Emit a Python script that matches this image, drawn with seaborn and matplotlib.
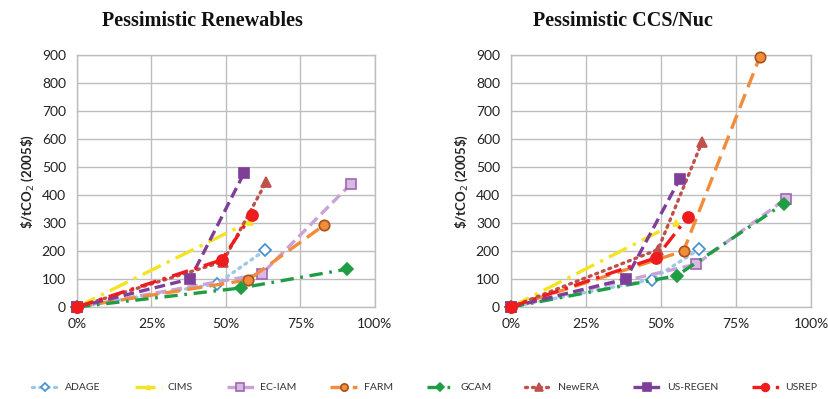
import matplotlib
matplotlib.use("Agg")
import matplotlib.pyplot as plt
import seaborn as sns
import pandas as pd

# Model names (legend order)
models = ["ADAGE", "CIMS", "EC-IAM", "FARM", "GCAM", "NewERA", "US-REGEN", "USREP"]
panels = ["Pessimistic Renewables", "Pessimistic CCS/Nuc"]

# Emissions reduction (fraction) and carbon price ($/tCO2, 2005$) per model
renew_x = {
    "ADAGE": [0, 0.47, 0.63],
    "CIMS": [0, 0.58],
    "EC-IAM": [0, 0.62, 0.92],
    "FARM": [0, 0.575, 0.83],
    "GCAM": [0, 0.55, 0.905],
    "NewERA": [0, 0.49, 0.635],
    "US-REGEN": [0, 0.38, 0.56],
    "USREP": [0, 0.485, 0.587],
}
renew_y = {
    "ADAGE": [0, 83, 202],
    "CIMS": [0, 305],
    "EC-IAM": [0, 118, 440],
    "FARM": [0, 97, 293],
    "GCAM": [0, 68, 135],
    "NewERA": [0, 162, 447],
    "US-REGEN": [0, 100, 477],
    "USREP": [0, 168, 330],
}
ccs_x = {
    "ADAGE": [0, 0.47, 0.628],
    "CIMS": [0, 0.55],
    "EC-IAM": [0, 0.618, 0.917],
    "FARM": [0, 0.575, 0.829],
    "GCAM": [0, 0.553, 0.909],
    "NewERA": [0, 0.49, 0.637],
    "US-REGEN": [0, 0.383, 0.562],
    "USREP": [0, 0.484, 0.59],
}
ccs_y = {
    "ADAGE": [0, 98, 207],
    "CIMS": [0, 300],
    "EC-IAM": [0, 153, 387],
    "FARM": [0, 200, 892],
    "GCAM": [0, 112, 369],
    "NewERA": [0, 205, 590],
    "US-REGEN": [0, 100, 456],
    "USREP": [0, 176, 322],
}

x_ticks = [0, 0.25, 0.5, 0.75, 1.0]
x_ticklabels = ["0%", "25%", "50%", "75%", "100%"]
y_ticks = [0, 100, 200, 300, 400, 500, 600, 700, 800, 900]

# Line / marker styling per model
styles = {
    "ADAGE": dict(color="#9CC8EA", linestyle=(0, (0.6, 1.6)), marker="D", ms=6,
                  mfc="white", mec="#3F8FD2", dash_capstyle="round"),
    "CIMS": dict(color="#F3E422", linestyle=(0, (6, 2, 1, 2)), marker="^", ms=4,
                 mfc="#F3E422", mec="#F3E422"),
    "EC-IAM": dict(color="#C9A3D8", linestyle=(0, (3.2, 1.6)), marker="s", ms=7.5,
                   mfc="#D9B9E4", mec="#9C67B3"),
    "FARM": dict(color="#F28C3A", linestyle=(0, (4.5, 2.2)), marker="o", ms=7.5,
                 mfc="#F28C3A", mec="#A5531B"),
    "GCAM": dict(color="#1F9D45", linestyle=(0, (4, 2, 0.8, 2)), marker="D", ms=6,
                 mfc="#1F9D45", mec="#1F9D45"),
    "NewERA": dict(color="#C0504D", linestyle=(0, (0.6, 1.5)), marker="^", ms=7.5,
                   mfc="#C0504D", mec="#C0504D", dash_capstyle="round"),
    "US-REGEN": dict(color="#7F3F98", linestyle=(0, (3.2, 1.6)), marker="s", ms=7.5,
                     mfc="#7F3F98", mec="#7F3F98"),
    "USREP": dict(color="#EE1C1C", linestyle=(0, (5, 2, 1, 2)), marker="o", ms=8,
                  mfc="#EE1C1C", mec="#EE1C1C"),
}

sns.set_theme(style="white")
plt.rcParams["font.family"] = ["Lato", "DejaVu Sans"]

fig = plt.figure(figsize=(8.29, 3.99), dpi=100)
ax_left = fig.add_axes([0.0929, 0.2306, 0.3594, 0.6316])
ax_right = fig.add_axes([0.6164, 0.2306, 0.3619, 0.6316])

grid_c = "#BDBDBD"
for ax, px, py in [(ax_left, renew_x, renew_y), (ax_right, ccs_x, ccs_y)]:
    for z, m in enumerate(models):
        df = pd.DataFrame({"reduction": px[m], "price": py[m]})
        st = styles[m]
        sns.lineplot(data=df, x="reduction", y="price", ax=ax, sort=False,
                     estimator=None, label=m, linewidth=2.4, markeredgewidth=1.2,
                     clip_on=False, zorder=3 + z, **st)
    ax.set_xlim(0, 1)
    ax.set_ylim(0, 900)
    ax.set_xticks(x_ticks)
    ax.set_xticklabels(x_ticklabels)
    ax.set_yticks(y_ticks)
    ax.grid(True, color=grid_c, linewidth=1.0)
    ax.set_axisbelow(True)
    for sp in ax.spines.values():
        sp.set_color(grid_c)
        sp.set_linewidth(1.0)
    ax.tick_params(axis="both", labelsize=10, colors="#222222", length=4,
                   width=1, color=grid_c, direction="out", pad=4)
    ax.tick_params(axis="both", labelcolor="#222222")
    ax.set_xlabel("")
    ax.set_ylabel(r"\$/tCO$_2$ (2005\$)", fontsize=9.5, fontweight="bold",
                  color="#222222", labelpad=4)
    ax.get_legend().remove()

fig.text(202 / 829, 1 - 21 / 399, panels[0], ha="center", va="center",
         fontsize=14.5, fontweight="bold", family="Liberation Serif", color="#111111")
fig.text(623 / 829, 1 - 21 / 399, panels[1], ha="center", va="center",
         fontsize=14.5, fontweight="bold", family="Liberation Serif", color="#111111")

handles, labels = ax_left.get_legend_handles_labels()
fig.legend(handles, labels, loc="center", bbox_to_anchor=(0.512, 0.028), ncol=8,
           frameon=False, fontsize=7.5, handlelength=2.6, columnspacing=3.25,
           handletextpad=0.6, markerscale=0.7, labelcolor="#333333")

fig.savefig("out.png", dpi=100)
